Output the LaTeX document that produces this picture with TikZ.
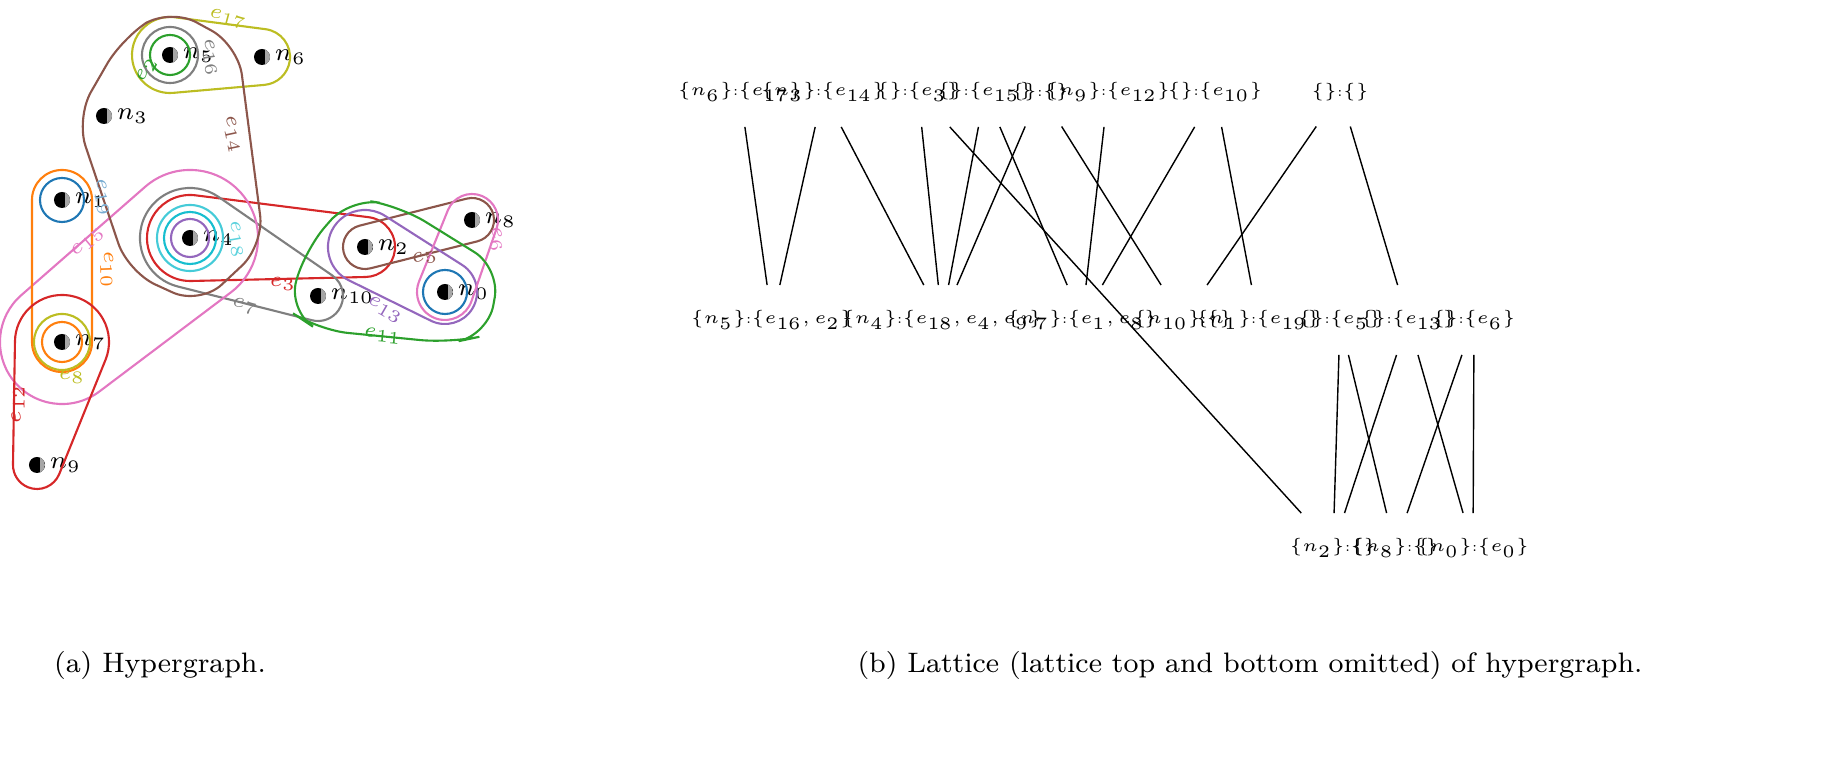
\documentclass[tikz,border=0pt]{standalone}
\usetikzlibrary{calc}

\definecolor{tblue}{HTML}{1F77B4}
\definecolor{torange}{HTML}{FF7F0E}
\definecolor{tgreen}{HTML}{2CA02C}
\definecolor{tred}{HTML}{D62728}
\definecolor{tpurple}{HTML}{9467BD}
\definecolor{tbrown}{HTML}{8C564B}
\definecolor{tpink}{HTML}{E377C2}
\definecolor{tgray}{HTML}{7F7F7F}
\definecolor{tolive}{HTML}{BCBD22}
\definecolor{tcyan}{HTML}{17BECF}

\tikzset{
    vert/.style={circle, fill=black, inner sep=0pt, minimum size=0.16cm,
        path picture={\fill[gray!70] ([xshift=0.025cm]path picture bounding box.north) rectangle (path picture bounding box.south east);},
        label={[font=\fontsize{7}{8}\selectfont, inner sep=1pt]right:#1}},
    hedge/.style={line width=0.6pt},
    elab/.style={font=\fontsize{6}{7}\selectfont, inner sep=0pt},
    lat/.style={font=\fontsize{4}{5}\selectfont, inner xsep=0pt, inner ysep=0.25cm},
    caption/.style={font=\fontsize{8}{10}\selectfont}
}

% hull of two nodes: colour, node, radius (cm), node, radius (cm)
\newcommand\hullpair[5]{%
    \draw[hedge, #1] let \p1=($(#4)-(#2)$), \n1={atan2(\y1,\x1)},
        \n2={acos((#3-#5)*28.4528/veclen(\x1,\y1))} in
        ($(#2)+(\n1+\n2:#3cm)$) -- ($(#4)+(\n1+\n2:#5cm)$)
        arc[start angle=\n1+\n2, end angle=\n1-\n2, radius=#5cm]
        -- ($(#2)+(\n1-\n2:#3cm)$)
        arc[start angle=\n1-\n2, end angle=\n1+\n2-360, radius=#3cm] -- cycle;%
}
\newcommand\lab[2]{$\{#1\}$:$\{#2\}$}

\begin{document}
\begin{tikzpicture}[x=0.01cm, y=-0.01cm]
    % hypergraph vertices
    \node[vert=$n_5$] (n5) at (170,55) {};
    \node[vert=$n_6$] (n6) at (262,57) {};
    \node[vert=$n_3$] (n3) at (104,116) {};
    \node[vert=$n_1$] (n1) at (62,200) {};
    \node[vert=$n_4$] (n4) at (190,238) {};
    \node[vert=$n_2$] (n2) at (365,247) {};
    \node[vert=$n_{10}$] (n10) at (318,296) {};
    \node[vert=$n_8$] (n8) at (472,220) {};
    \node[vert=$n_0$] (n0) at (445,292) {};
    \node[vert=$n_7$] (n7) at (62,342) {};
    \node[vert=$n_9$] (n9) at (37,465) {};

    % single vertex edges
    \draw[hedge, tgreen] (n5) circle[radius=0.2cm];
    \draw[hedge, tgray] (n5) circle[radius=0.28cm];
    \draw[hedge, tblue] (n1) circle[radius=0.22cm];
    \draw[hedge, tblue] (n0) circle[radius=0.22cm];
    \draw[hedge, tpurple] (n4) circle[radius=0.19cm];
    \draw[hedge, tcyan] (n4) circle[radius=0.26cm];
    \draw[hedge, tcyan!80] (n4) circle[radius=0.33cm];
    \draw[hedge, torange] (n7) circle[radius=0.2cm];
    \draw[hedge, tolive] (n7) circle[radius=0.28cm];

    % two vertex edges
    \hullpair{tolive}{n5}{0.38}{n6}{0.28}
    \hullpair{tred}{n4}{0.43}{n2}{0.3}
    \hullpair{tgray}{n4}{0.5}{n10}{0.25}
    \hullpair{tpink}{n4}{0.68}{n7}{0.62}
    \hullpair{torange}{n1}{0.3}{n7}{0.3}
    \hullpair{tred}{n7}{0.47}{n9}{0.24}
    \hullpair{tbrown}{n2}{0.22}{n8}{0.22}
    \hullpair{tpurple}{n2}{0.37}{n0}{0.32}
    \hullpair{tpink}{n8}{0.26}{n0}{0.28}

    % three vertex edges
    \draw[hedge, tbrown, rounded corners=0.3cm] (170,8) -- (238,45) -- (264,245)
        -- (200,305) -- (128,272) -- (76,118) -- (122,38) -- cycle;
    \draw[hedge, tgreen, rounded corners=0.3cm] (350,198) -- (400,206) -- (500,268)
        -- (488,335) -- (450,343) -- (318,330) -- (288,310) -- (305,250) -- cycle;

    % edge labels
    \node[elab, tolive, rotate=-15] (l17) at (228,19) {$e_{17}$};
    \node[elab, tgray, rotate=-80] (l16) at (210,58) {$e_{16}$};
    \node[elab, tgreen, rotate=60] (l2) at (147,70) {$e_2$};
    \node[elab, tbrown, rotate=-78] (l14) at (232,135) {$e_{14}$};
    \node[elab, tblue!60, rotate=-80] (l19) at (102,198) {$e_{19}$};
    \node[elab, tpink, rotate=40] (l15) at (88,242) {$e_{15}$};
    \node[elab, torange, rotate=-88] (l10) at (107,270) {$e_{10}$};
    \node[elab, tcyan!70, rotate=-80] (l18) at (236,240) {$e_{18}$};
    \node[elab, tred] (l3) at (283,284) {$e_3$};
    \node[elab, tgray, rotate=-15] (l7) at (245,306) {$e_7$};
    \node[elab, tpurple, rotate=-30] (l13) at (385,310) {$e_{13}$};
    \node[elab, tgreen, rotate=-5] (l11) at (383,336) {$e_{11}$};
    \node[elab, tbrown, rotate=15] (l5) at (425,258) {$e_5$};
    \node[elab, tpink, rotate=-80] (l6) at (496,240) {$e_6$};
    \node[elab, tolive] (l8) at (72,377) {$e_8$};
    \node[elab, tred, rotate=90] (l12) at (18,404) {$e_{12}$};

    % lattice
    \node[lat] (t1) at (740,92) {\lab{n_6}{e_{17}}};
    \node[lat] (t2) at (823,92) {\lab{n_3}{e_{14}}};
    \node[lat] (t3) at (918,92) {\lab{}{e_3}};
    \node[lat] (t4) at (985,92) {\lab{}{e_{15}}};
    \node[lat] (t5) at (1040,92) {\lab{}{}};
    \node[lat] (t6) at (1108,92) {\lab{n_9}{e_{12}}};
    \node[lat] (t7) at (1215,92) {\lab{}{e_{10}}};
    \node[lat] (t8) at (1340,92) {\lab{}{}};

    \node[lat] (m1) at (772,320) {\lab{n_5}{e_{16},e_2}};
    \node[lat] (m2) at (942,320) {\lab{n_4}{e_{18},e_4,e_9}};
    \node[lat] (m3) at (1082,320) {\lab{n_7}{e_1,e_8}};
    \node[lat] (m4) at (1183,320) {\lab{n_{10}}{}};
    \node[lat] (m5) at (1258,320) {\lab{n_1}{e_{19}}};
    \node[lat] (m6) at (1340,320) {\lab{}{e_5}};
    \node[lat] (m7) at (1408,320) {\lab{}{e_{13}}};
    \node[lat] (m8) at (1474,320) {\lab{}{e_6}};

    \node[lat] (b1) at (1333,548) {\lab{n_2}{}};
    \node[lat] (b2) at (1395,548) {\lab{n_8}{}};
    \node[lat] (b3) at (1473,548) {\lab{n_0}{e_0}};

    \draw (t1) -- (m1);
    \draw (t2) -- (m1);
    \draw (t2) -- (m2);
    \draw (t3) -- (m2);
    \draw (t3) -- (b1);
    \draw (t4) -- (m2);
    \draw (t4) -- (m3);
    \draw (t5) -- (m2);
    \draw (t5) -- (m4);
    \draw (t6) -- (m3);
    \draw (t7) -- (m3);
    \draw (t7) -- (m5);
    \draw (t8) -- (m4);
    \draw (t8) -- (m7);
    \draw (m6) -- (b1);
    \draw (m6) -- (b2);
    \draw (m7) -- (b1);
    \draw (m7) -- (b3);
    \draw (m8) -- (b2);
    \draw (m8) -- (b3);

    % captions
    \node[caption] (capa) at (160,665) {(a) Hypergraph.};
    \node[caption] (capb) at (1250,665) {(b) Lattice (lattice top and bottom omitted) of hypergraph.};

    \pgfresetboundingbox
    \path[use as bounding box] (0,0) rectangle (1840,783);
\end{tikzpicture}
\end{document}
